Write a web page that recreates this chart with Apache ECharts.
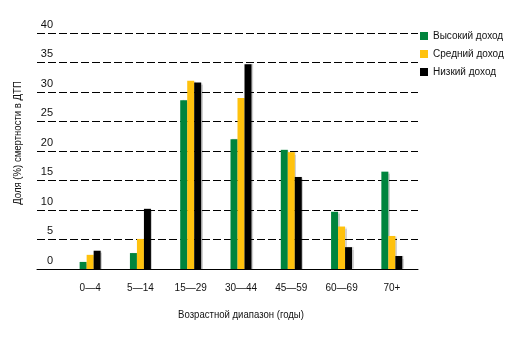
<!DOCTYPE html>
<html>
<head>
<meta charset="utf-8">
<script src="https://cdn.jsdelivr.net/npm/echarts@6/dist/echarts.min.js"></script>
<style>
html,body{margin:0;padding:0;background:#fff;}
#chart{width:522px;height:338px;}
</style>
</head>
<body>
<div id="chart"></div>
<script>
const categories = ['0—4', '5—14', '15—29', '30—44', '45—59', '60—69', '70+'];
const seriesNames = ['Высокий доход', 'Средний доход', 'Низкий доход'];
const highIncome = [1.2, 2.7, 28.6, 22.0, 20.2, 9.7, 16.5];
const midIncome = [2.4, 5.1, 31.9, 29.0, 19.8, 7.2, 5.6];
const lowIncome = [3.1, 10.2, 31.6, 34.7, 15.6, 3.7, 2.2];
const yTitle = 'Доля (%) смертности в ДТП';
const xTitle = 'Возрастной диапазон (годы)';

const FONT = '"Liberation Sans", Arial, sans-serif';
const colors = ['#00843d', '#ffc20e', '#000000'];
const values = [highIncome, midIncome, lowIncome];

const chart = echarts.init(document.getElementById('chart'), null, {renderer: 'canvas'});
const option = {
  animation: false,
  textStyle: {fontFamily: FONT},
  grid: [
    {left: 37, right: 104, top: 33, bottom: 69},
    {left: 65, right: 105, top: 33, bottom: 69}
  ],
  legend: {
    orient: 'vertical',
    left: 415,
    top: 26,
    itemWidth: 8,
    itemHeight: 8,
    itemGap: 8,
    icon: 'rect',
    textStyle: {fontFamily: FONT, fontSize: 10, color: '#111'},
    data: seriesNames
  },
  xAxis: [
    {gridIndex: 0, type: 'value', min: 0, max: 1, show: true,
     axisLine: {show: true, onZero: false, lineStyle: {color: '#000', width: 1}},
     axisTick: {show: false}, axisLabel: {show: false}, splitLine: {show: false}},
    {gridIndex: 1, type: 'category', data: categories,
     axisLine: {show: false}, axisTick: {show: false},
     axisLabel: {fontFamily: FONT, fontSize: 10, color: '#111', margin: 14}}
  ],
  yAxis: [
    {gridIndex: 0, type: 'value', min: 0, max: 40, interval: 5,
     axisLine: {show: false}, axisTick: {show: false},
     axisLabel: {inside: true, align: 'right', margin: 16, verticalAlign: 'bottom',
       padding: [0, 0, 3, 0], fontFamily: FONT, fontSize: 11, color: '#111'},
     splitLine: {show: true, lineStyle: {color: '#000', width: 1, type: [8, 3]}}},
    {gridIndex: 1, type: 'value', min: 0, max: 40, interval: 5, show: false}
  ],
  graphic: [
    {type: 'text', x: 18, y: 143, rotation: Math.PI / 2, scaleX: 0.87,
     style: {text: yTitle, font: '11px ' + FONT, fill: '#111', align: 'center', verticalAlign: 'middle'}},
    {type: 'text', x: 241, y: 315, scaleX: 0.87,
     style: {text: xTitle, font: '11px ' + FONT, fill: '#111', align: 'center', verticalAlign: 'middle'}}
  ],
  series: seriesNames.map((name, i) => ({
    name: name,
    type: 'bar',
    xAxisIndex: 1,
    yAxisIndex: 1,
    data: values[i],
    barWidth: 7,
    barGap: '0%',
    itemStyle: {color: colors[i], shadowColor: 'rgba(0,0,0,0.18)', shadowOffsetX: 1.5, shadowBlur: 1}
  }))
};
chart.setOption(option);
</script>
</body>
</html>
